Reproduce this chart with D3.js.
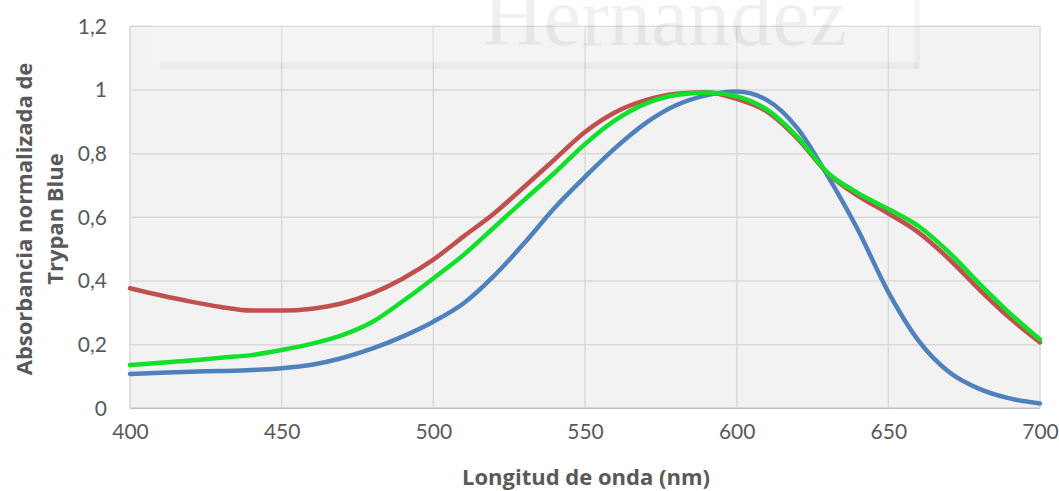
<!DOCTYPE html>
<html><head><meta charset="utf-8">
<script src="https://cdn.jsdelivr.net/npm/d3@7"></script>
<style>body{margin:0;background:#fff}svg{display:block}</style>
</head><body><svg id="c" width="1059" height="491"></svg>
<script>
const wavelengths = [400,410,420,430,440,450,460,470,480,490,500,510,520,530,540,550,560,570,580,590,600,610,620,630,640,650,660,670,680,690,700];
const blueValues  = [0.108,0.112,0.115,0.117,0.120,0.126,0.137,0.158,0.188,0.226,0.272,0.330,0.416,0.519,0.630,0.727,0.818,0.896,0.952,0.983,0.995,0.968,0.880,0.730,0.560,0.365,0.212,0.114,0.061,0.031,0.015];
const redValues   = [0.377,0.355,0.335,0.318,0.307,0.307,0.313,0.330,0.362,0.408,0.467,0.540,0.612,0.696,0.782,0.868,0.930,0.968,0.988,0.993,0.972,0.932,0.848,0.738,0.667,0.612,0.552,0.469,0.373,0.284,0.207];
const greenValues = [0.136,0.143,0.150,0.159,0.167,0.183,0.203,0.230,0.272,0.337,0.408,0.482,0.568,0.655,0.740,0.830,0.905,0.957,0.984,0.992,0.980,0.938,0.853,0.740,0.676,0.626,0.572,0.490,0.392,0.299,0.216];
const xTicks = [400,450,500,550,600,650,700];
const yTicks = [0,0.2,0.4,0.6,0.8,1,1.2];
const xTitle = "Longitud de onda (nm)";
const yTitleLines = ["Absorbancia normalizada de","Trypan Blue"];
const seriesColors = ["#4f81bd","#c0504d","#11e02a"];

const svg = d3.select("#c");
const L = 130, R = 1040, T = 26.3, B = 408.3;
const x = d3.scaleLinear().domain([400,700]).range([L,R]);
const y = d3.scaleLinear().domain([0,1.2]).range([B,T]);
const font = "Lato, 'Open Sans', sans-serif";
const titleFont = "'Open Sans', Lato, sans-serif";
const fmt = v => String(+v.toFixed(1)).replace(".", ",");

// plot background
svg.append("rect").attr("x",L).attr("y",T).attr("width",R-L).attr("height",B-T).attr("fill","#f2f2f2");

// gridlines
svg.append("g").selectAll("line").data(yTicks).join("line")
  .attr("x1",L).attr("x2",R).attr("y1",d=>y(d)).attr("y2",d=>y(d))
  .attr("stroke",d=>d===0?"#bfbfbf":"#d9d9d9").attr("stroke-width",1.5);
svg.append("g").selectAll("line").data(xTicks).join("line")
  .attr("x1",d=>x(d)).attr("x2",d=>x(d)).attr("y1",T).attr("y2",B)
  .attr("stroke","#d9d9d9").attr("stroke-width",1.5);

// watermark
const wm = svg.append("g").attr("pointer-events","none");
wm.append("rect").attr("x",152).attr("y",0).attr("width",766).attr("height",66)
  .attr("fill","#ffffff").attr("fill-opacity",0.2);
wm.append("rect").attr("x",160).attr("y",62).attr("width",758).attr("height",7)
  .attr("fill","#000").attr("fill-opacity",0.03);
wm.append("rect").attr("x",914).attr("y",0).attr("width",6).attr("height",69)
  .attr("fill","#000").attr("fill-opacity",0.03);
wm.append("text").attr("x",665).attr("y",45).attr("text-anchor","middle")
  .attr("font-family","'Liberation Serif', serif").attr("font-size",84)
  .attr("fill","#000").attr("fill-opacity",0.06).text("Hernández");

// series
const line = d3.line().x((d,i)=>x(wavelengths[i])).y(d=>y(d)).curve(d3.curveMonotoneX);
[blueValues, redValues, greenValues].forEach((vals,k)=>{
  svg.append("path").datum(vals).attr("d",line).attr("fill","none")
    .attr("stroke",seriesColors[k]).attr("stroke-width",4.5)
    .attr("stroke-linejoin","round").attr("stroke-linecap","round");
});

// axes
const yAxis = d3.axisLeft(y).tickValues(yTicks).tickFormat(fmt).tickSize(0).tickPadding(23);
const gy = svg.append("g").attr("transform",`translate(${L},0)`).call(yAxis);
gy.select(".domain").remove();
gy.selectAll("text").attr("font-family",font).attr("font-size",21).attr("fill","#595959");

const xAxis = d3.axisBottom(x).tickValues(xTicks).tickFormat(d=>d).tickSize(0).tickPadding(16);
const gx = svg.append("g").attr("transform",`translate(0,${B})`).call(xAxis);
gx.select(".domain").remove();
gx.selectAll("text").attr("font-family",font).attr("font-size",21).attr("fill","#595959");

// titles
svg.append("text").attr("x",586).attr("y",485).attr("text-anchor","middle")
  .attr("font-family",titleFont).attr("font-weight","bold").attr("font-size",22)
  .attr("fill","#595959").text(xTitle);
const yt = svg.append("text").attr("transform","translate(0,219) rotate(-90)")
  .attr("text-anchor","middle").attr("font-family",titleFont).attr("font-weight","bold")
  .attr("font-size",22).attr("fill","#595959");
yTitleLines.forEach((t,i)=>yt.append("tspan").attr("x",0).attr("y",32+31*i).text(t));
</script>
</body></html>
